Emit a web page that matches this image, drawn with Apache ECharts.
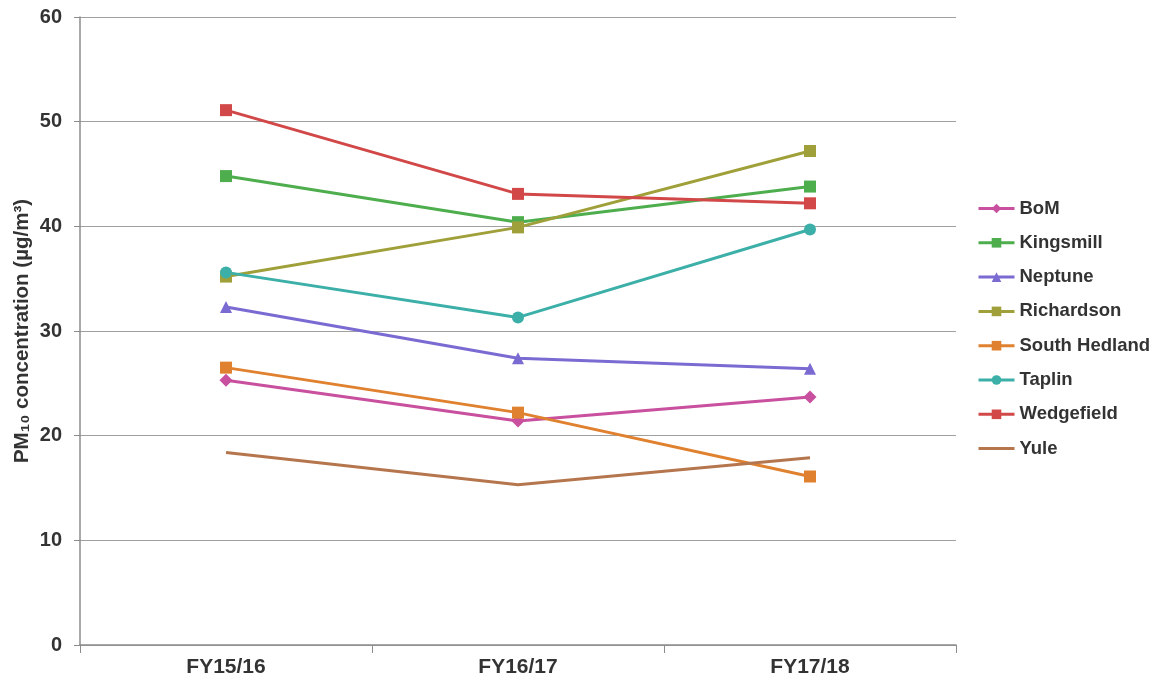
<!DOCTYPE html>
<html><head><meta charset="utf-8">
<script src="https://cdn.jsdelivr.net/npm/echarts@6/dist/echarts.min.js"></script>
<style>html,body{margin:0;padding:0;background:#fff}#c{width:1159px;height:682px}</style>
</head><body><div id="c"></div>
<script>
const categories = ['FY15/16', 'FY16/17', 'FY17/18'];
const bom = [25.3, 21.4, 23.7];
const kingsmill = [44.8, 40.4, 43.8];
const neptune = [32.3, 27.4, 26.4];
const richardson = [35.2, 39.9, 47.2];
const southHedland = [26.5, 22.2, 16.1];
const taplin = [35.6, 31.3, 39.7];
const wedgefield = [51.1, 43.1, 42.2];
const yule = [18.4, 15.3, 17.9];
const yTicks = [0, 10, 20, 30, 40, 50, 60];

const defs = [
  ['BoM', bom, '#C8509E', 'diamond', 13],
  ['Kingsmill', kingsmill, '#4EAE4E', 'rect', 12],
  ['Neptune', neptune, '#7A6BD2', 'triangle', 12],
  ['Richardson', richardson, '#A0A03A', 'rect', 12],
  ['South Hedland', southHedland, '#E0812F', 'rect', 12],
  ['Taplin', taplin, '#3CB0A8', 'circle', 12],
  ['Wedgefield', wedgefield, '#D24848', 'rect', 12],
  ['Yule', yule, '#B5764E', 'none', 0]
];
const series = defs.map(d => ({
  name: d[0], type: 'line', data: d[1],
  symbol: d[3], symbolSize: d[4], showSymbol: d[3] !== 'none',
  lineStyle: {color: d[2], width: 3},
  itemStyle: {color: d[2]},
  emphasis: {disabled: true},
  animation: false
}));
const font = 'Liberation Sans, Arial, sans-serif';
const chart = echarts.init(document.getElementById('c'));
chart.setOption({
  animation: false,
  grid: {left: 80, right: 203, top: 17, bottom: 37},
  legend: {
    orient: 'vertical', left: 972, top: 194,
    itemWidth: 36, itemHeight: 12, itemGap: 15.3,
    lineStyle: {width: 3},
    textStyle: {fontFamily: font, fontWeight: 'bold', fontSize: 18.5, color: '#333'},
    data: defs.map(d => d[3] === 'none' ? {name: d[0], itemStyle: {opacity: 0}} : d[0])
  },
  xAxis: {
    type: 'category', data: categories, boundaryGap: true,
    axisLine: {lineStyle: {color: '#8c8c8c', width: 1.5}},
    axisTick: {show: true, length: 8, lineStyle: {color: '#8c8c8c'}},
    axisLabel: {fontFamily: font, fontWeight: 'bold', fontSize: 21, color: '#333', margin: 12}
  },
  yAxis: {
    type: 'value', min: 0, max: 60, interval: 10,
    name: 'PM₁₀ concentration (µg/m³)', nameLocation: 'middle', nameGap: 47,
    nameMoveOverlap: false,
    nameTextStyle: {fontFamily: font, fontWeight: 'bold', fontSize: 20.5, color: '#333'},
    axisLine: {show: true, lineStyle: {color: '#8c8c8c', width: 1.5}},
    axisTick: {show: true, length: 6, lineStyle: {color: '#8c8c8c'}},
    splitLine: {lineStyle: {color: '#a0a0a0', width: 1.2}},
    axisLabel: {fontFamily: font, fontWeight: 'bold', fontSize: 20, color: '#333', margin: 18,
      formatter: v => yTicks.includes(v) ? String(v) : ''}
  },
  series: series
});
</script></body></html>
